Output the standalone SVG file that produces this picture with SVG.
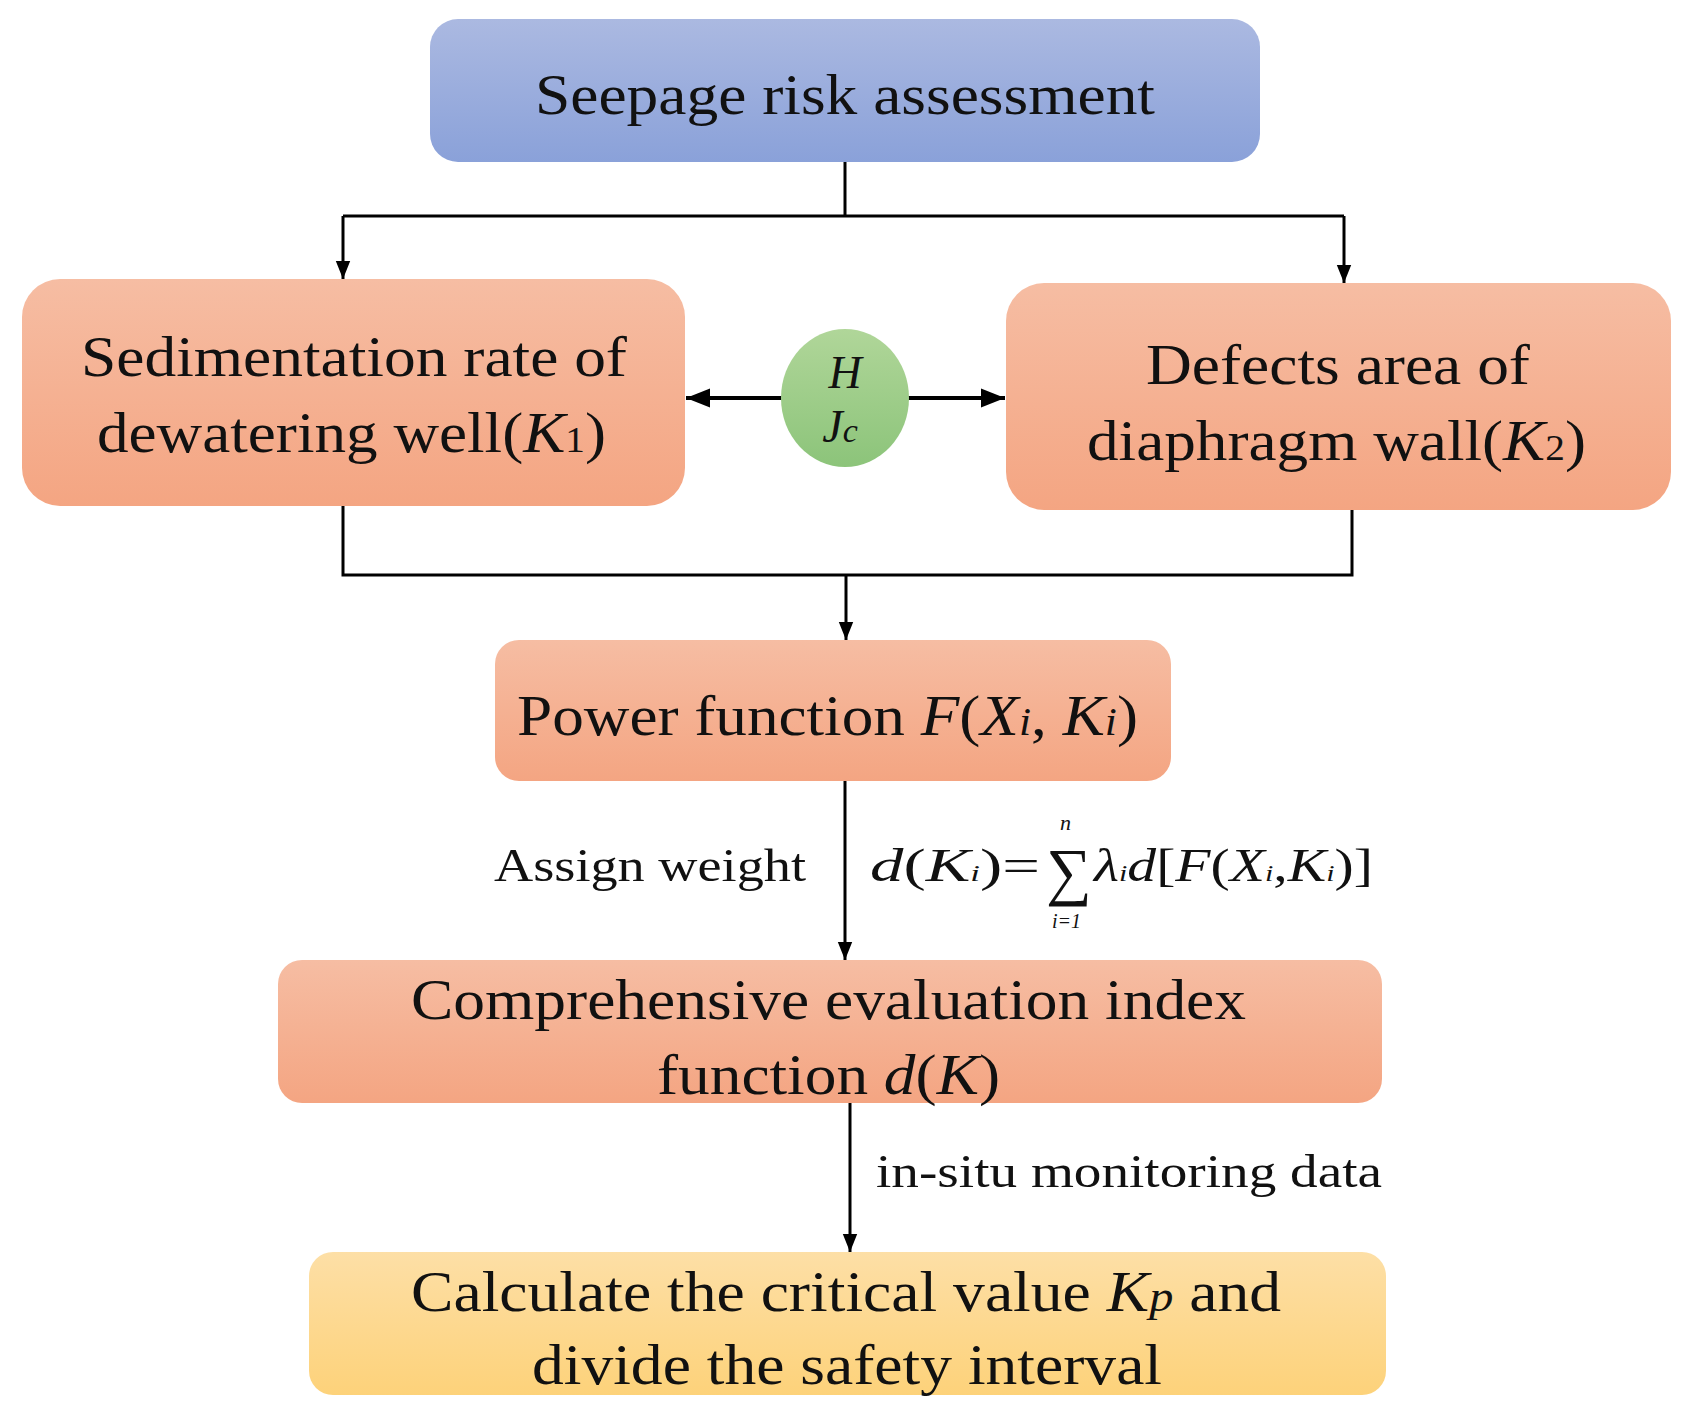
<svg xmlns="http://www.w3.org/2000/svg" width="1687" height="1407" viewBox="0 0 1687 1407">
<defs>
<linearGradient id="gb" x1="0" y1="0" x2="0" y2="1"><stop offset="0" stop-color="#abb9e1"/><stop offset="1" stop-color="#8aa1d9"/></linearGradient>
<linearGradient id="go" x1="0" y1="0" x2="0" y2="1"><stop offset="0" stop-color="#f6bda3"/><stop offset="1" stop-color="#f4a582"/></linearGradient>
<linearGradient id="gy" x1="0" y1="0" x2="0" y2="1"><stop offset="0" stop-color="#fddfa6"/><stop offset="1" stop-color="#fdd27a"/></linearGradient>
<linearGradient id="gg" x1="0" y1="0" x2="0" y2="1"><stop offset="0" stop-color="#b0d699"/><stop offset="1" stop-color="#8cc47a"/></linearGradient>
<marker id="ah2" viewBox="0 0 10 10" refX="10" refY="5" markerWidth="6" markerHeight="6" orient="auto"><path d="M0,1 L10,5 L0,9 z" fill="#000"/></marker>
</defs>
<style>
text{font-family:"Liberation Serif","Times New Roman",serif;fill:#111}
.m{font-size:58px}
.l{font-size:46px}
.i{font-style:italic}
.c{fill:none;stroke:#000;stroke-width:3}
</style>
<g id="connectors">
<polyline class="c" points="845,162 845,216"/>
<polyline class="c" points="343,216 1344,216"/>
<line class="c" x1="343" y1="216" x2="343" y2="279" marker-end="url(#ah2)"/>
<line class="c" x1="1344" y1="216" x2="1344" y2="283" marker-end="url(#ah2)"/>
<polyline class="c" points="343,506 343,575 1352,575 1352,510"/>
<line class="c" x1="846" y1="575" x2="846" y2="640" marker-end="url(#ah2)"/>
<line class="c" x1="845" y1="781" x2="845" y2="960" marker-end="url(#ah2)"/>
<line class="c" x1="850" y1="1103" x2="850" y2="1252" marker-end="url(#ah2)"/>
<line x1="782" y1="398" x2="686" y2="398" stroke="#000" stroke-width="4" marker-end="url(#ah2)"/>
<line x1="908" y1="398" x2="1005" y2="398" stroke="#000" stroke-width="4" marker-end="url(#ah2)"/>
</g>
<g id="n_top"><rect x="430" y="19" width="830" height="143" rx="28" fill="url(#gb)"/>
<text class="m" x="845" y="114" text-anchor="middle" textLength="620" lengthAdjust="spacingAndGlyphs">Seepage risk assessment</text></g>
<g id="n_left"><rect x="22" y="279" width="663" height="227" rx="38" fill="url(#go)"/>
<text class="m" x="81" y="376" textLength="546" lengthAdjust="spacingAndGlyphs">Sedimentation rate of</text>
<text class="m" x="97" y="452" textLength="509" lengthAdjust="spacingAndGlyphs">dewatering well(<tspan class="i">K</tspan><tspan font-size="36">1</tspan>)</text></g>
<g id="n_right"><rect x="1006" y="283" width="665" height="227" rx="38" fill="url(#go)"/>
<text class="m" x="1146" y="384" textLength="384" lengthAdjust="spacingAndGlyphs">Defects area of</text>
<text class="m" x="1087" y="460" textLength="499" lengthAdjust="spacingAndGlyphs">diaphragm wall(<tspan class="i">K</tspan><tspan font-size="36">2</tspan>)</text></g>
<g id="n_circle"><ellipse cx="845" cy="398" rx="64" ry="69" fill="url(#gg)"/>
<text class="l i" x="845" y="388" text-anchor="middle">H</text>
<text class="l i" x="840" y="442" text-anchor="middle">J<tspan font-size="34">c</tspan></text></g>
<g id="n_power"><rect x="495" y="640" width="676" height="141" rx="24" fill="url(#go)"/>
<text class="m" x="517" y="735" textLength="621" lengthAdjust="spacingAndGlyphs">Power function  <tspan class="i">F</tspan>(<tspan class="i">X</tspan><tspan class="i" font-size="40">i</tspan>, <tspan class="i">K</tspan><tspan class="i" font-size="40">i</tspan>)</text></g>
<g id="n_comp"><rect x="278" y="960" width="1104" height="143" rx="24" fill="url(#go)"/>
<text class="m" x="411" y="1019" textLength="835" lengthAdjust="spacingAndGlyphs">Comprehensive evaluation index</text>
<text class="m" x="657" y="1094" textLength="343" lengthAdjust="spacingAndGlyphs">function <tspan class="i">d</tspan>(<tspan class="i">K</tspan>)</text></g>
<g id="n_calc"><rect x="309" y="1252" width="1077" height="143" rx="24" fill="url(#gy)"/>
<text class="m" x="411" y="1311" textLength="870" lengthAdjust="spacingAndGlyphs">Calculate the critical value <tspan class="i">K</tspan><tspan class="i" font-size="44">p</tspan> and</text>
<text class="m" x="532" y="1384" textLength="630" lengthAdjust="spacingAndGlyphs">divide the safety interval</text></g>
<g id="labels">
<text class="l" x="806" y="881" text-anchor="end" textLength="312" lengthAdjust="spacingAndGlyphs">Assign weight</text>
<text class="l" x="870" y="881" textLength="170" lengthAdjust="spacingAndGlyphs"><tspan class="i">d</tspan>(<tspan class="i">K</tspan><tspan class="i" font-size="24">i</tspan>)=</text>
<text x="1046" y="893" font-size="64">∑</text>
<text class="i" x="1060" y="830" font-size="22">n</text>
<text class="i" x="1052" y="928" font-size="20">i=1</text>
<text class="l" x="1094" y="881" textLength="279" lengthAdjust="spacingAndGlyphs"><tspan class="i">λ</tspan><tspan class="i" font-size="24">i</tspan><tspan class="i">d</tspan>[<tspan class="i">F</tspan>(<tspan class="i">X</tspan><tspan class="i" font-size="24">i</tspan>,<tspan class="i">K</tspan><tspan class="i" font-size="24">i</tspan>)]</text>
<text class="l" x="876" y="1187" textLength="506" lengthAdjust="spacingAndGlyphs">in-situ monitoring data</text>
</g>
</svg>
